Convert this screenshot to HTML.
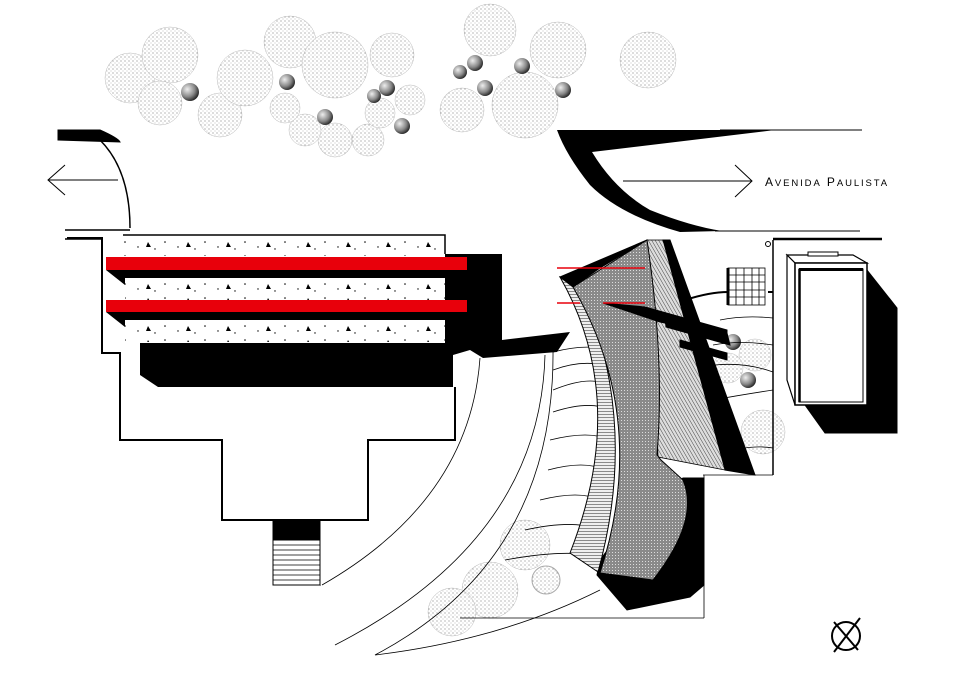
<!DOCTYPE html>
<html><head><meta charset="utf-8"><style>
html,body{margin:0;padding:0;background:#fff;}
svg{display:block;}
text{font-family:"Liberation Sans",sans-serif;}
</style></head><body>
<svg width="977" height="683" viewBox="0 0 977 683" xmlns="http://www.w3.org/2000/svg">
<defs>
<pattern id="stip" width="4" height="4" patternUnits="userSpaceOnUse">
<rect width="4" height="4" fill="#fff"/><circle cx="1" cy="1" r="0.6" fill="#888"/><circle cx="3" cy="3" r="0.5" fill="#aaa"/>
</pattern>
<radialGradient id="ball" cx="35%" cy="35%" r="70%"><stop offset="0" stop-color="#eee"/><stop offset="0.6" stop-color="#888"/><stop offset="1" stop-color="#222"/></radialGradient>
<pattern id="gray" width="3" height="3" patternUnits="userSpaceOnUse">
<rect width="3" height="3" fill="#8a8a8a"/><rect x="0" y="0" width="1" height="1" fill="#ddd"/>
</pattern>
<pattern id="hatch2" width="3" height="3" patternUnits="userSpaceOnUse" patternTransform="rotate(-30)">
<rect width="3" height="3" fill="#ddd"/><line x1="0" y1="0" x2="0" y2="3" stroke="#444" stroke-width="1"/>
</pattern>
<pattern id="hlines" width="4" height="3" patternUnits="userSpaceOnUse">
<rect width="4" height="3" fill="#eee"/><line x1="0" y1="0" x2="4" y2="0" stroke="#555" stroke-width="1.3"/>
</pattern>
<pattern id="conc" width="40" height="14" patternUnits="userSpaceOnUse">
<rect width="40" height="14" fill="#fff"/><circle cx="5" cy="4" r="0.8" fill="#000"/><circle cx="18" cy="9" r="0.7" fill="#000"/><path d="M28 4 l3 5 h-5z" fill="#000"/><circle cx="35" cy="11" r="0.7" fill="#000"/>
</pattern>
</defs>

<g stroke="#bbb" stroke-width="0.5" fill="url(#stip)">
<circle cx="130" cy="78" r="25"/><circle cx="170" cy="55" r="28"/><circle cx="160" cy="103" r="22"/>
<circle cx="220" cy="115" r="22"/><circle cx="245" cy="78" r="28"/><circle cx="290" cy="42" r="26"/>
<circle cx="335" cy="65" r="33"/><circle cx="392" cy="55" r="22"/><circle cx="335" cy="140" r="17"/>
<circle cx="368" cy="140" r="16"/><circle cx="305" cy="130" r="16"/><circle cx="285" cy="108" r="15"/>
<circle cx="380" cy="113" r="15"/><circle cx="410" cy="100" r="15"/><circle cx="490" cy="30" r="26"/>
<circle cx="525" cy="105" r="33"/><circle cx="558" cy="50" r="28"/><circle cx="648" cy="60" r="28"/>
<circle cx="462" cy="110" r="22"/>
<circle cx="763" cy="432" r="22"/><circle cx="755" cy="355" r="16"/><circle cx="728" cy="368" r="15"/>
<circle cx="525" cy="545" r="25"/><circle cx="490" cy="590" r="28"/><circle cx="452" cy="612" r="24"/>
</g>
<g fill="url(#ball)">
<circle cx="190" cy="92" r="9"/><circle cx="287" cy="82" r="8"/><circle cx="325" cy="117" r="8"/>
<circle cx="387" cy="88" r="8"/><circle cx="374" cy="96" r="7"/><circle cx="402" cy="126" r="8"/>
<circle cx="460" cy="72" r="7"/><circle cx="475" cy="63" r="8"/><circle cx="522" cy="66" r="8"/>
<circle cx="485" cy="88" r="8"/><circle cx="563" cy="90" r="8"/>
<circle cx="733" cy="342" r="8"/><circle cx="748" cy="380" r="8"/><circle cx="546" cy="580" r="14" fill="url(#stip)" stroke="#aaa"/>
</g>

<g stroke="#000" fill="none">
<path d="M58 130 L100 130 Q118 138 120 142 L58 140Z" fill="#000"/>
<path d="M100 140 Q130 170 130 228" stroke-width="1.5"/>
<line x1="65" y1="230" x2="130" y2="230" stroke-width="1.5"/>
<line x1="65" y1="239" x2="103" y2="239" stroke-width="1.5"/>
<line x1="48" y1="180" x2="118" y2="180"/><path d="M65 165 L48 180 L65 195"/>
</g>
<g stroke="#000" fill="none">
<line x1="720" y1="130" x2="862" y2="130"/>
<line x1="715" y1="231" x2="860" y2="231"/>
<path d="M557 130 L775 130 L592 152 Q615 190 650 210 Q690 226 722 231 L680 232 Q620 215 590 185 Q566 155 557 130Z" fill="#000" stroke="none"/>
<line x1="623" y1="181" x2="752" y2="181"/><path d="M735 165 L752 181 L735 197"/>
<text x="765" y="186" font-size="12" fill="#000" stroke="none" letter-spacing="1.9">A<tspan font-size="9.5">VENIDA</tspan> P<tspan font-size="9.5">AULISTA</tspan></text>
<line x1="773" y1="239" x2="882" y2="239" stroke-width="2.5"/>
<circle cx="768" cy="244" r="2.5"/>
</g>

<g>
<path d="M445 254 L502 254 L502 340 L570 332 L557 352 L483 358 L470 350 L453 355 L453 387 L445 387Z" fill="#000"/>
<path d="M140 343 L453 343 L453 387 L158 387 L140 375Z" fill="#000"/>
<rect x="122" y="240" width="322" height="16" fill="url(#conc)"/>
<rect x="125" y="278" width="320" height="22" fill="url(#conc)"/>
<rect x="125" y="320" width="320" height="22" fill="url(#conc)"/>
<path d="M106 270 L445 270 L445 278 L125 278 L125 285Z" fill="#000"/>
<path d="M106 312 L445 312 L445 320 L125 320 L125 327Z" fill="#000"/>
<rect x="106" y="257" width="361" height="13" fill="#e8000b"/>
<rect x="106" y="300" width="361" height="12" fill="#e8000b"/>
<path d="M123 235 L445 235 L445 254" fill="none" stroke="#000" stroke-width="1.5"/>
<path d="M67 238 L102 238 L102 353 L120 353 L120 440 L222 440 L222 520 L368 520 L368 440 L455 440 L455 387" fill="none" stroke="#000" stroke-width="2"/>
</g>

<g stroke="#000">
<path d="M273 520 L320 520 L320 585 L290 560 L273 545Z" fill="#000"/>
<rect x="273" y="540" width="47" height="45" fill="#fff" stroke-width="1"/>
<g stroke-width="0.7"><line x1="273" y1="545" x2="320" y2="545"/><line x1="273" y1="550" x2="320" y2="550"/><line x1="273" y1="555" x2="320" y2="555"/><line x1="273" y1="560" x2="320" y2="560"/><line x1="273" y1="565" x2="320" y2="565"/><line x1="273" y1="570" x2="320" y2="570"/><line x1="273" y1="575" x2="320" y2="575"/><line x1="273" y1="580" x2="320" y2="580"/></g>
</g>

<g fill="none" stroke="#000" stroke-width="0.8">
<path d="M480 358 Q470 500 322 585"/>
<path d="M545 355 Q540 540 335 645"/>
<path d="M553 350 Q555 560 375 655 Q500 640 600 590"/>
<path d="M553 352 Q580 345 600 348"/><path d="M553 370 Q580 360 603 365"/><path d="M553 390 Q590 375 607 385"/>
<path d="M553 412 Q590 400 610 410"/><path d="M550 440 Q590 430 610 440"/><path d="M548 470 Q585 460 605 470"/>
<path d="M540 500 Q580 490 600 500"/><path d="M525 530 Q570 520 595 528"/><path d="M505 560 Q560 550 590 555"/>
<path d="M720 320 Q745 315 773 318"/><path d="M713 345 Q740 340 773 345"/><path d="M715 365 Q745 362 773 372"/>
<path d="M713 400 Q740 395 773 390"/><path d="M735 450 Q755 445 773 448"/>
<line x1="703" y1="475" x2="773" y2="475"/><line x1="704" y1="475" x2="704" y2="618"/>
<line x1="460" y1="618" x2="704" y2="618"/>
<line x1="773" y1="240" x2="773" y2="475" stroke-width="1.5"/>
<path d="M685 300 Q710 292 728 292" stroke-width="2"/>
<line x1="768" y1="292" x2="773" y2="292" stroke-width="2"/>
</g>

<g stroke="#000">
<path d="M683 478 L704 478 L704 585 L690 597 L627 610 L597 575 L600 560 Q630 520 650 500Z" fill="#000"/>
<path d="M663 240 L670 240 L755 475 L725 470Z" fill="#000"/>
<path d="M647 240 L663 240 L725 470 L658 457 Q655 360 647 240Z" fill="url(#hatch2)" stroke-width="0.8"/>
<path d="M560 277 Q630 400 570 553 L598 572 Q640 420 580 285Z" fill="url(#hlines)" stroke-width="1"/>
<path d="M573 287 L647 240 Q665 360 657 455 L661 460 L683 480 Q700 520 653 580 L600 573 Q650 420 573 287Z" fill="url(#gray)" stroke-width="1"/>
<path d="M560 277 L647 240 L600 268 L573 287Z" fill="#000"/>
<path d="M603 303 L645 307 L727 330 L727 336 L660 322 Z" fill="#000"/>
<path d="M665 317 L727 333 L730 345 L666 327Z" fill="#000"/>
<path d="M680 340 L727 353 L727 360 L680 347Z" fill="#000"/>
<line x1="557" y1="268" x2="645" y2="268" stroke="#e8000b" stroke-width="1.5"/>
<line x1="557" y1="303" x2="580" y2="303" stroke="#e8000b" stroke-width="1.5"/>
<line x1="603" y1="303" x2="645" y2="303" stroke="#e8000b" stroke-width="1.5"/>
</g>

<g stroke="#000" stroke-width="0.8" fill="none">
<rect x="728" y="268" width="37" height="37"/>
<line x1="728" y1="268" x2="728" y2="305" stroke-width="3"/>
<line x1="736" y1="268" x2="736" y2="305"/><line x1="744" y1="268" x2="744" y2="305"/><line x1="752" y1="268" x2="752" y2="305"/><line x1="759" y1="268" x2="759" y2="305"/>
<line x1="728" y1="275" x2="765" y2="275"/><line x1="728" y1="282" x2="765" y2="282"/><line x1="728" y1="290" x2="765" y2="290"/><line x1="728" y1="297" x2="765" y2="297"/>
</g>

<g stroke="#000">
<path d="M867 270 L897 308 L897 433 L825 433 L805 405 L867 405Z" fill="#000"/>
<path d="M787 255 L853 255 L867 263 L795 263Z" fill="#fff" stroke-width="1.2"/>
<path d="M787 255 L795 263 L795 405 L787 380Z" fill="#fff" stroke-width="1.2"/>
<rect x="795" y="263" width="72" height="142" fill="#fff" stroke-width="1.5"/>
<rect x="799" y="269" width="64" height="133" fill="none" stroke-width="1"/>
<line x1="799" y1="269.5" x2="863" y2="269.5" stroke-width="3"/>
<line x1="799.5" y1="269" x2="799.5" y2="402" stroke-width="2.5"/>
<rect x="808" y="252" width="30" height="4" fill="#fff"/>
</g>

<g stroke="#000" stroke-width="2" fill="none">
<circle cx="846" cy="636" r="14"/>
<line x1="834" y1="652" x2="860" y2="618"/><line x1="834" y1="622" x2="858" y2="650"/>
</g>
</svg>
</body></html>
